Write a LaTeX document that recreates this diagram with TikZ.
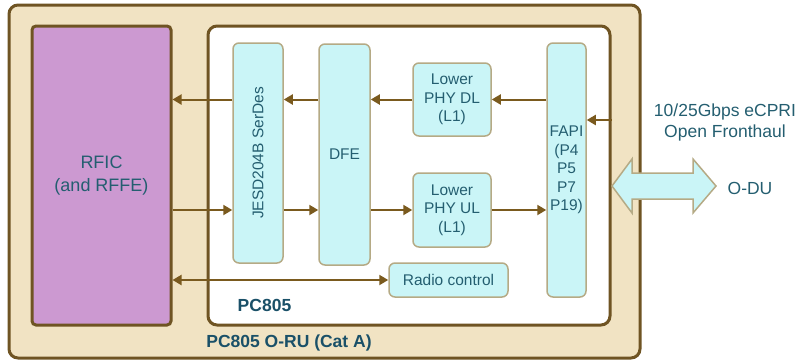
\documentclass[tikz,border=0pt]{standalone}
\usepackage{fontspec}
\setmainfont{Liberation Sans}
\usetikzlibrary{arrows.meta}
\definecolor{tanbg}{HTML}{F1E3C3}
\definecolor{brownline}{HTML}{6F5423}
\definecolor{arrowcol}{HTML}{7A5A1E}
\definecolor{rficfill}{HTML}{CC99D1}
\definecolor{cyanbox}{HTML}{CAF5F7}
\definecolor{blkline}{HTML}{B5AA85}
\definecolor{textcol}{HTML}{245E70}
\definecolor{labelcol}{HTML}{1A5068}

\begin{document}
\begin{tikzpicture}[x=1pt, y=-1pt,
  every node/.style={text=textcol, align=center, inner sep=0pt},
  frame/.style={draw=brownline, line width=3pt, rounded corners=9pt},
  blk/.style={draw=blkline, line width=1.5pt, fill=cyanbox, rounded corners=6pt, font=\fontsize{15.5}{18.5}\selectfont},
  arr/.style={draw=arrowcol, line width=2pt, -{Triangle[length=9pt,width=10pt]}},
  biarr/.style={draw=arrowcol, line width=2pt, {Triangle[length=9pt,width=10pt]}-{Triangle[length=9pt,width=10pt]}},
  lbl/.style={font=\bfseries\fontsize{17.5}{21}\selectfont, text=labelcol},
  txt/.style={font=\fontsize{17.5}{21}\selectfont}]
\useasboundingbox (0,0) rectangle (804,360);

\node[frame, fill=tanbg, minimum width=631pt, minimum height=353pt] (oru) at (324.5,181.5) {};
\node[frame, fill=rficfill, rounded corners=4pt, minimum width=139pt, minimum height=299pt,
  font=\fontsize{18}{23}\selectfont] (rfic) at (101.5,175.5) {RFIC\\(and RFFE)};
\node[frame, fill=white, minimum width=402pt, minimum height=299pt] (pc) at (409,175.5) {};

\node[blk, minimum width=50pt, minimum height=220pt] (jesd) at (258,153) {\rotatebox{90}{JESD204B SerDes}};
\node[blk, minimum width=51pt, minimum height=221pt] (dfe) at (344.5,154.5) {DFE};
\node[blk, minimum width=78pt, minimum height=73pt] (phydl) at (452,99.5) {Lower\\PHY DL\\(L1)};
\node[blk, minimum width=78pt, minimum height=74pt] (phyul) at (452,210) {Lower\\PHY UL\\(L1)};
\node[blk, minimum width=39pt, minimum height=254pt] (fapi) at (566.5,170) {FAPI\\(P4\\P5\\P7\\P19)};
\node[blk, minimum width=119pt, minimum height=34pt] (radio) at (448.5,280) {Radio control};

\draw[arr] (fapi.west |- phydl) -- (phydl.west -| phydl.east);
\draw[arr] (phydl.west) -- (dfe.east |- phydl);
\draw[arr] (dfe.west |- phydl) -- (jesd.east |- phydl);
\draw[arr] (jesd.west |- phydl) -- (rfic.east |- phydl);
\draw[arr] (rfic.east |- phyul) -- (jesd.west |- phyul);
\draw[arr] (jesd.east |- phyul) -- (dfe.west |- phyul);
\draw[arr] (dfe.east |- phyul) -- (phyul.west);
\draw[arr] (phyul.east) -- (fapi.west |- phyul);
\draw[biarr] (rfic.east |- radio) -- (radio.west);
\coordinate (fhin) at ([yshift=50pt]fapi.east);
\draw[arr] (pc.east |- fhin) -- (fhin);

\draw[draw=blkline, line width=1.5pt, fill=cyanbox, line join=miter]
  (612,186) -- (632,159) -- (632,173) -- (693,173) -- (693,159) -- (716,186)
  -- (693,213) -- (693,199) -- (632,199) -- (632,213) -- cycle;

\node[txt] (fh) at (725,122) {10/25Gbps eCPRI\\Open Fronthaul};
\node[txt] (odu) at (750,188) {O-DU};
\node[lbl] (pclbl) at (264.5,305) {PC805};
\node[lbl] (orulbl) at (289,343) {PC805 O-RU (Cat A)};
\end{tikzpicture}
\end{document}
